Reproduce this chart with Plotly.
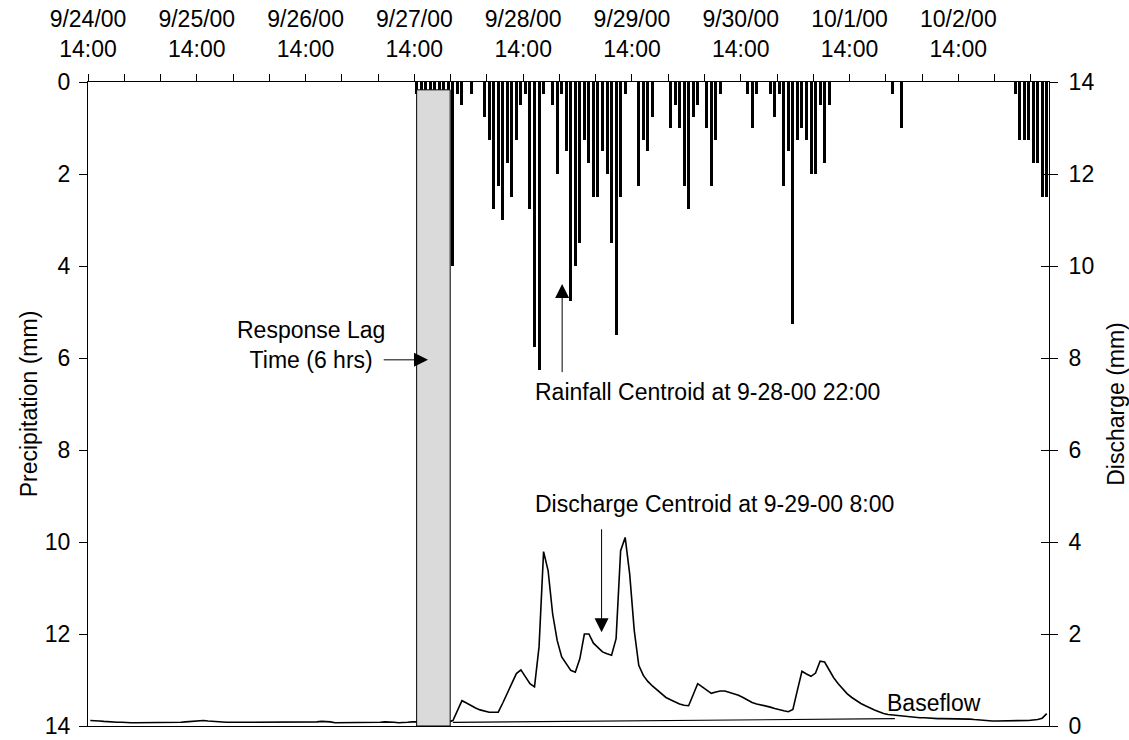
import plotly.graph_objects as go

# ---------------- data ----------------
# hours counted from 9/24/00 14:00
date_labels = ["9/24/00", "9/25/00", "9/26/00", "9/27/00", "9/28/00",
               "9/29/00", "9/30/00", "10/1/00", "10/2/00"]
label_time = "14:00"

rain_hour = [72, 73, 74, 75, 76, 77, 78, 79, 80, 81, 82, 84,
             87, 88, 89, 90, 91, 92, 93, 94, 95, 96, 97, 98, 99, 100,
             102, 103, 104, 105, 106, 107, 108, 109, 110, 111, 112, 113, 114,
             115, 116, 117, 118, 121, 122, 123, 124, 128, 129, 130, 131, 132,
             133, 134, 136, 137, 138, 139, 145, 146, 147, 150, 151, 152, 153,
             154, 155, 156, 157, 158, 159, 160, 161, 162, 163, 177, 179,
             204, 205, 206, 207, 208, 209, 210, 211]
rain_mm = [0.25, 0.25, 0.25, 0.25, 0.25, 0.25, 0.25, 0.25, 4.0, 0.25, 0.5, 0.25,
           0.75, 1.25, 2.75, 2.25, 3.0, 1.75, 2.5, 1.25, 0.5, 0.25, 2.75, 5.75, 6.25, 0.25,
           0.5, 2.0, 0.25, 1.5, 4.75, 4.0, 3.5, 1.25, 1.75, 2.5, 2.5, 1.5, 2.0,
           3.5, 5.5, 2.5, 0.25, 2.25, 1.25, 1.5, 0.75, 1.0, 0.5, 1.0, 2.25, 2.75,
           0.75, 0.5, 1.0, 2.25, 1.25, 0.25, 0.25, 1.0, 0.25, 0.25, 0.75, 0.25, 2.25,
           1.5, 5.25, 1.25, 1.0, 1.25, 2.0, 2.0, 0.5, 1.75, 0.5, 0.25, 1.0,
           0.25, 1.25, 1.25, 1.25, 1.75, 1.75, 2.5, 2.5]

# hourly discharge (mm), hours 0..211
discharge_mm = [
    0.12, 0.12, 0.11, 0.10, 0.09, 0.08, 0.08, 0.08, 0.07, 0.07,
    0.07, 0.07, 0.08, 0.08, 0.08, 0.07, 0.07, 0.08, 0.08, 0.08,
    0.08, 0.09, 0.10, 0.11, 0.12, 0.12, 0.11, 0.10, 0.09, 0.08,
    0.08, 0.08, 0.08, 0.08, 0.08, 0.08, 0.08, 0.08, 0.08, 0.08,
    0.08, 0.08, 0.08, 0.08, 0.08, 0.08, 0.09, 0.09, 0.09, 0.09,
    0.09, 0.10, 0.10, 0.09, 0.07, 0.07, 0.07, 0.08, 0.08, 0.08,
    0.07, 0.07, 0.08, 0.08, 0.08, 0.09, 0.09, 0.08, 0.07, 0.07,
    0.08, 0.09, 0.09, 0.09, 0.09, 0.09, 0.09, 0.09, 0.09, 0.09,
    0.12, 0.35, 0.55, 0.50, 0.44, 0.39, 0.35, 0.32, 0.30, 0.30,
    0.30, 0.50, 0.71, 0.93, 1.14, 1.22, 1.08, 0.92, 0.85, 1.72,
    3.79, 3.38, 2.44, 1.86, 1.50, 1.36, 1.21, 1.17, 1.46, 2.00,
    2.00, 1.80, 1.70, 1.61, 1.57, 1.54, 1.90, 3.81, 4.10, 3.30,
    2.08, 1.32, 1.10, 0.97, 0.87, 0.78, 0.70, 0.62, 0.57, 0.52,
    0.48, 0.45, 0.44, 0.68, 0.92, 0.85, 0.78, 0.71, 0.74, 0.76,
    0.76, 0.73, 0.70, 0.67, 0.62, 0.57, 0.51, 0.48, 0.46, 0.43,
    0.41, 0.38, 0.35, 0.33, 0.31, 0.36, 0.78, 1.19, 1.13, 1.08,
    1.15, 1.41, 1.39, 1.22, 1.05, 0.92, 0.80, 0.70, 0.62, 0.55,
    0.49, 0.44, 0.39, 0.35, 0.31, 0.27, 0.25, 0.24, 0.22, 0.21,
    0.20, 0.19, 0.19, 0.18, 0.18, 0.17, 0.17, 0.16, 0.16, 0.16,
    0.15, 0.15, 0.15, 0.15, 0.15, 0.14, 0.13, 0.12, 0.12, 0.11,
    0.11, 0.11, 0.12, 0.12, 0.12, 0.12, 0.12, 0.12, 0.13, 0.14,
    0.17, 0.27,
]

baseflow_hour = [80.5, 178.0]
baseflow_mm = [0.08, 0.16]

# ---------------- figure ----------------
FONT = "Arial, 'Liberation Sans', sans-serif"
FS = 23
total_hours = len(discharge_mm)

tick_step = 8
tickvals = list(range(0, total_hours - 3, tick_step))
ticktext = []
for v in tickvals:
    if v % 24 == 0:
        ticktext.append(f"{date_labels[v // 24]}<br>{label_time}")
    else:
        ticktext.append("")

fig = go.Figure()

fig.add_trace(go.Bar(
    x=[h + 0.5 for h in rain_hour], y=rain_mm, width=0.66,
    marker=dict(color="black", line=dict(width=0)),
    yaxis="y", xaxis="x", hoverinfo="skip",
))

fig.add_trace(go.Scatter(
    x=[k + 0.5 for k in range(total_hours)], y=discharge_mm,
    mode="lines", line=dict(color="black", width=1.6),
    yaxis="y2", xaxis="x",
))

fig.add_trace(go.Scatter(
    x=baseflow_hour, y=baseflow_mm, mode="lines",
    line=dict(color="black", width=1.2), yaxis="y2", xaxis="x",
))

fig.add_trace(go.Scatter(x=[None], y=[None], yaxis="y3", xaxis="x",
                         mode="lines", showlegend=False))

# response lag box
fig.add_shape(type="rect", xref="x", yref="y", x0=72.5, x1=79.9, y0=0.17, y1=14,
              fillcolor="#DADADA", line=dict(color="black", width=1), layer="above")

ann_font = dict(family=FONT, size=FS, color="black")
arrow_style = dict(text="", showarrow=True, arrowhead=2, arrowsize=2.8, arrowwidth=1,
                   arrowcolor="black", standoff=0, startstandoff=0,
                   xref="x", yref="y", axref="x", ayref="y")
annotations = [
    dict(x=49.2, y=5.71, xref="x", yref="y", text="Response Lag<br>Time (6 hrs)",
         showarrow=False, font=ann_font, align="center"),
    dict(x=75.0, y=6.04, ax=64.9, ay=6.04, **arrow_style),
    dict(x=136.6, y=6.73, xref="x", yref="y", text="Rainfall Centroid at 9-28-00 22:00",
         showarrow=False, font=ann_font),
    dict(x=104.6, y=4.39, ax=104.6, ay=6.34, **arrow_style),
    dict(x=138.1, y=9.18, xref="x", yref="y", text="Discharge Centroid at 9-29-00 8:00",
         showarrow=False, font=ann_font),
    dict(x=113.3, y=11.96, ax=113.3, ay=9.69, **arrow_style),
    dict(x=186.7, y=13.49, xref="x", yref="y", text="Baseflow",
         showarrow=False, font=ann_font),
]

axis_common = dict(showgrid=False, zeroline=False, showline=True, linecolor="black",
                   linewidth=1, tickcolor="black", tickwidth=1,
                   ticklabeloverflow="allow", automargin=False,
                   tickfont=dict(family=FONT, size=FS, color="black"))

fig.update_layout(
    width=1129, height=740,
    margin=dict(l=88, r=80, t=82, b=14),
    paper_bgcolor="white", plot_bgcolor="white",
    showlegend=False, bargap=0,
    font=dict(family=FONT, size=FS, color="black"),
    xaxis=dict(range=[0, total_hours], side="top", tickmode="array",
               tickvals=tickvals, ticktext=ticktext, ticks="outside", ticklen=7,
               ticklabelstandoff=8, mirror=True, **axis_common),
    yaxis=dict(range=[14, 0], tickmode="linear", tick0=0, dtick=2,
               ticks="outside", ticklen=8, ticklabelstandoff=4,
               title=dict(text="Precipitation (mm)", font=dict(family=FONT, size=FS),
                          standoff=0),
               **axis_common),
    yaxis2=dict(range=[0, 14], overlaying="y", side="right", tickmode="linear",
                tick0=0, dtick=2, ticks="outside", ticklen=8, ticklabelstandoff=6,
                title=dict(text="Discharge (mm)", font=dict(family=FONT, size=FS),
                           standoff=14),
                **axis_common),
    yaxis3=dict(range=[0, 14], overlaying="y", side="right", tickmode="linear",
                tick0=0, dtick=2, ticks="inside", ticklen=8, showticklabels=False,
                showline=False, showgrid=False, zeroline=False, automargin=False,
                tickcolor="black", tickwidth=1),
    annotations=annotations,
)

fig.write_html("out.html")
